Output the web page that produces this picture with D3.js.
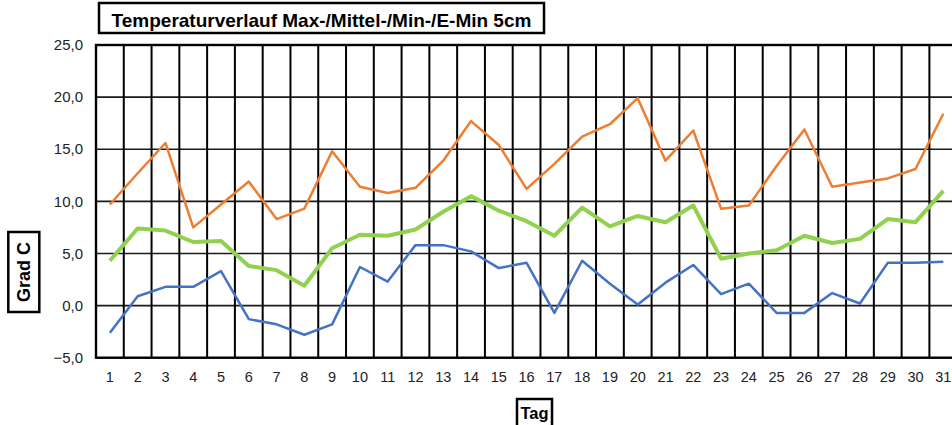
<!DOCTYPE html>
<html>
<head>
<meta charset="utf-8">
<script src="https://cdn.jsdelivr.net/npm/d3@7"></script>
<style>
  body { margin: 0; background: #fff; }
  svg { display: block; font-family: "Liberation Sans", Arial, sans-serif; }
</style>
</head>
<body>
<div id="chart"></div>
<script>
// days of the month
const days = d3.range(1, 32);

// Max / Mittel / Min temperatures (Grad C)
const maxTemp = [9.7, 12.7, 15.6, 7.5, 9.7, 11.9, 8.3, 9.3, 14.8, 11.4, 10.8, 11.3, 13.9, 17.7, 15.4, 11.2,
  13.6, 16.2, 17.4, 19.9, 13.9, 16.8, 9.3, 9.6, 13.4, 16.9, 11.4, 11.8, 12.2, 13.1, 18.4];
const meanTemp = [4.3, 7.4, 7.2, 6.1, 6.2, 3.8, 3.4, 1.9, 5.5, 6.8, 6.7, 7.3, 9.0, 10.5, 9.1, 8.1,
  6.7, 9.4, 7.6, 8.6, 8.0, 9.6, 4.5, 5.0, 5.3, 6.7, 6.0, 6.4, 8.3, 8.0, 11.0];
const minTemp = [-2.6, 0.9, 1.8, 1.8, 3.3, -1.3, -1.8, -2.8, -1.8, 3.7, 2.3, 5.8, 5.8, 5.2, 3.6, 4.1,
  -0.7, 4.3, 2.1, 0.1, 2.2, 3.9, 1.1, 2.1, -0.7, -0.7, 1.2, 0.2, 4.1, 4.1, 4.2];

const yTicks = [-5, 0, 5, 10, 15, 20, 25];

const W = 952, H = 425;
const plotLeft = 96, plotTop = 45, plotBottom = 357.7;
const bandW = 27.78;
const narrow = "'Liberation Sans Narrow', 'Liberation Sans', Arial, sans-serif";

const svg = d3.select("#chart").append("svg")
  .attr("width", W)
  .attr("height", H);

const x = d3.scaleBand()
  .domain(days)
  .range([plotLeft, plotLeft + bandW * days.length])
  .paddingInner(0).paddingOuter(0);

const y = d3.scaleLinear().domain([-5, 25]).range([plotBottom, plotTop]);

// horizontal grid
svg.append("g")
  .selectAll("line")
  .data(yTicks)
  .join("line")
  .attr("x1", plotLeft)
  .attr("x2", plotLeft + bandW * days.length)
  .attr("y1", d => y(d))
  .attr("y2", d => y(d))
  .attr("stroke", "#1a1a1a")
  .attr("stroke-width", 1.6);

// vertical grid at band edges
svg.append("g")
  .selectAll("line")
  .data(days)
  .join("line")
  .attr("x1", d => x(d))
  .attr("x2", d => x(d))
  .attr("y1", plotTop)
  .attr("y2", plotBottom)
  .attr("stroke", "#000")
  .attr("stroke-width", 2);

// frame
svg.append("rect")
  .attr("x", plotLeft)
  .attr("y", plotTop)
  .attr("width", bandW * days.length)
  .attr("height", plotBottom - plotTop)
  .attr("fill", "none")
  .attr("stroke", "#000")
  .attr("stroke-width", 2.4);

// y tick labels
svg.append("g")
  .selectAll("text")
  .data(yTicks)
  .join("text")
  .attr("x", 83)
  .attr("y", d => y(d))
  .attr("dy", "0.35em")
  .attr("text-anchor", "end")
  .style("font-size", "15px")
  .style("fill", "#222")
  .text(d => d3.format(".1f")(d).replace(".", ","));

// x tick labels
svg.append("g")
  .selectAll("text")
  .data(days)
  .join("text")
  .attr("x", d => x(d) + x.bandwidth() / 2)
  .attr("y", 382)
  .attr("text-anchor", "middle")
  .style("font-family", narrow)
  .style("font-size", "14.5px")
  .style("fill", "#222")
  .text(d => d);

// lines
const series = [
  { values: maxTemp, color: "#ED7D31", width: 2.5 },
  { values: minTemp, color: "#4472C4", width: 2.5 },
  { values: meanTemp, color: "#92D050", width: 4 }
];

const line = d3.line()
  .x((d, i) => x(days[i]) + x.bandwidth() / 2)
  .y(d => y(d));

svg.append("g")
  .selectAll("path")
  .data(series)
  .join("path")
  .attr("d", d => line(d.values))
  .attr("fill", "none")
  .attr("stroke", d => d.color)
  .attr("stroke-width", d => d.width)
  .attr("stroke-linejoin", "round");

// title box
const title = svg.append("g");
title.append("rect")
  .attr("x", 99).attr("y", 3)
  .attr("width", 445).attr("height", 30)
  .attr("fill", "#fff")
  .attr("stroke", "#000")
  .attr("stroke-width", 2.5);
title.append("text")
  .attr("x", 321.5).attr("y", 27)
  .attr("text-anchor", "middle")
  .style("font-size", "19px")
  .style("font-weight", "bold")
  .text("Temperaturverlauf Max-/Mittel-/Min-/E-Min 5cm");

// y axis label box
const yl = svg.append("g").attr("transform", "translate(23.8,272) rotate(-90)");
yl.append("rect")
  .attr("x", -40).attr("y", -15.5)
  .attr("width", 80).attr("height", 31)
  .attr("fill", "#fff")
  .attr("stroke", "#000")
  .attr("stroke-width", 2.5);
yl.append("text")
  .attr("y", 6.5)
  .attr("text-anchor", "middle")
  .style("font-size", "18px")
  .style("font-weight", "bold")
  .text("Grad C");

// x axis label box
const xl = svg.append("g").attr("transform", "translate(534.5,413)");
xl.append("rect")
  .attr("x", -17.5).attr("y", -14)
  .attr("width", 35).attr("height", 28)
  .attr("fill", "#fff")
  .attr("stroke", "#000")
  .attr("stroke-width", 2.5);
xl.append("text")
  .attr("y", 5.5)
  .attr("text-anchor", "middle")
  .style("font-family", narrow)
  .style("font-size", "16.5px")
  .style("font-weight", "bold")
  .text("Tag");
</script>
</body>
</html>
